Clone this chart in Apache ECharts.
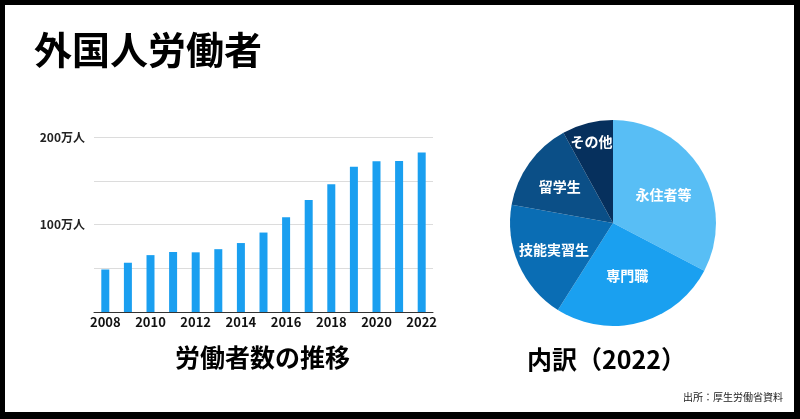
<!DOCTYPE html>
<html>
<head>
<meta charset="utf-8">
<script src="https://cdn.jsdelivr.net/npm/echarts@6/dist/echarts.min.js"></script>
<style>
    html, body { margin: 0; padding: 0; background: #fff; }
    #chart { width: 800px; height: 419px; }
</style>
</head>
<body>
<div id="chart"></div>
<script>
// 外国人労働者数 (万人)
const years = ['2008','2009','2010','2011','2012','2013','2014','2015','2016','2017','2018','2019','2020','2021','2022'];
const workers = [48.6, 56.3, 65.0, 68.6, 68.2, 71.8, 78.8, 90.8, 108.4, 127.9, 146.0, 165.9, 172.4, 172.7, 182.3];
const yTickLabels = [100, 200];

// 内訳 2022 (人)
const pieNames = ['永住者等', '専門職', '技能実習生', '留学生', 'その他'];
const pieValues = [595207, 479949, 343254, 258636, 145679];

const font = '"Noto Sans CJK JP", "Noto Sans", sans-serif';
const pieColors = ['#58bef5', '#1aa0f0', '#0a6db4', '#0b4f87', '#06305d'];
// nudge inside labels to where the original put them
const labelShift = [[4, 0], [0, 0], [-9, 5], [-9, -5], [-8, -29]];

let myChart = echarts.init(document.getElementById('chart'), null, { renderer: 'canvas' });

let option = {
    backgroundColor: '#fff',
    animation: false,
    textStyle: { fontFamily: font },
    title: [
        {
            text: '外国人労働者',
            left: 34, top: 31, padding: 0,
            textStyle: { fontSize: 38, fontWeight: 'bold', color: '#000', fontFamily: font }
        },
        {
            text: '労働者数の推移',
            left: 175, top: 345, padding: 0,
            textStyle: { fontSize: 25, fontWeight: 'bold', color: '#000', fontFamily: font }
        },
        {
            text: '内訳（2022）',
            left: 527, top: 347, padding: 0,
            textStyle: { fontSize: 25, fontWeight: 'bold', color: '#000', fontFamily: font }
        },
        {
            text: '出所：厚生労働省資料',
            left: 683, top: 392, padding: 0,
            textStyle: { fontSize: 10, fontWeight: 'normal', color: '#222', fontFamily: font }
        }
    ],
    grid: {
        left: 94,
        right: 367,
        top: 137,
        bottom: 107,
        containLabel: false
    },
    xAxis: {
        type: 'category',
        data: years,
        boundaryGap: true,
        axisLine: { lineStyle: { color: '#333', width: 1 } },
        axisTick: { show: false },
        axisLabel: {
            interval: 1,
            margin: 4,
            fontSize: 13,
            fontWeight: 'bold',
            color: '#111',
            fontFamily: font
        }
    },
    yAxis: {
        type: 'value',
        min: 0,
        max: 200,
        interval: 50,
        axisLine: { show: false },
        axisTick: { show: false },
        splitLine: { lineStyle: { color: '#dcdcdc', width: 1 } },
        axisLabel: {
            margin: 9,
            fontSize: 12,
            fontWeight: 'bold',
            color: '#222',
            fontFamily: font,
            formatter: (v) => yTickLabels.indexOf(v) >= 0 ? v + '万人' : ''
        }
    },
    series: [
        {
            name: '外国人労働者数',
            type: 'bar',
            data: workers,
            barWidth: 8,
            itemStyle: { color: '#1a9ff0' }
        },
        {
            name: '内訳',
            type: 'pie',
            center: [613, 223],
            radius: [0, 103],
            startAngle: 90,
            clockwise: true,
            avoidLabelOverlap: false,
            labelLine: { show: false },
            emphasis: { disabled: true },
            data: pieNames.map((n, i) => ({
                name: n,
                value: pieValues[i],
                itemStyle: { color: pieColors[i] }
            })),
            label: {
                show: true,
                position: 'inside',
                formatter: '{b}',
                color: '#fff',
                fontSize: 14,
                fontWeight: 'bold',
                fontFamily: font
            },
            labelLayout: (params) => {
                let s = labelShift[params.dataIndex] || [0, 0];
                return { dx: s[0], dy: s[1] };
            }
        }
    ],
    graphic: [
        // black frame around the slide
        { type: 'rect', shape: { x: 0, y: 0, width: 800, height: 5 }, style: { fill: '#000' }, z: 100 },
        { type: 'rect', shape: { x: 0, y: 0, width: 5, height: 419 }, style: { fill: '#000' }, z: 100 },
        { type: 'rect', shape: { x: 794, y: 0, width: 6, height: 419 }, style: { fill: '#000' }, z: 100 },
        { type: 'rect', shape: { x: 0, y: 412, width: 800, height: 7 }, style: { fill: '#000' }, z: 100 }
    ]
};

myChart.setOption(option);
</script>
</body>
</html>
